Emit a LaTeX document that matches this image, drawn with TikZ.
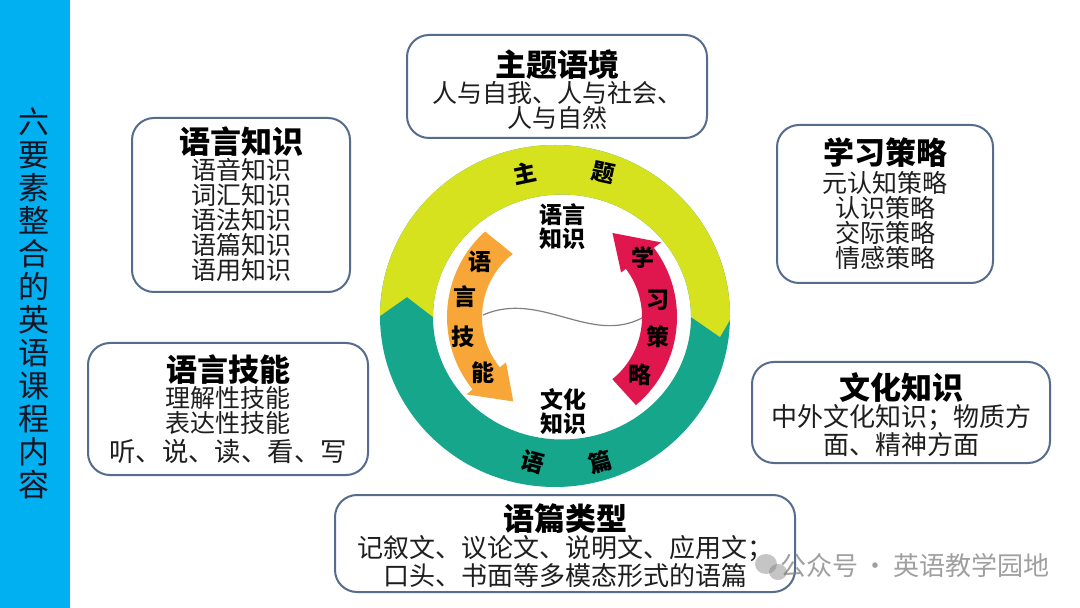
\documentclass[tikz,border=0pt]{standalone}
\usepackage{fontspec}
\setmainfont{Noto Sans CJK SC}
\definecolor{barblue}{RGB}{0,176,240}
\definecolor{ringyellow}{RGB}{214,226,30}
\definecolor{ringteal}{RGB}{22,166,140}
\definecolor{arrorange}{RGB}{247,166,55}
\definecolor{arrred}{RGB}{224,22,78}
\definecolor{boxline}{RGB}{86,108,140}
\definecolor{bodytext}{RGB}{30,30,30}
\tikzset{
  infobox/.style={draw=boxline, line width=1pt, rounded corners=11pt, fill=white, inner sep=0pt},
  hdr/.style={inner sep=0pt, align=center, font=\fontsize{15.5}{15.5}\selectfont\bfseries, text=black},
  bodytxt/.style={inner sep=0pt, align=center, font=\fontsize{12.5}{12.5}\selectfont, text=bodytext},
  ringlbl/.style={inner sep=0pt, align=center, font=\fontsize{11.5}{10.6}\selectfont\bfseries, text=black},
}
\begin{document}
\begin{tikzpicture}[x=0.5pt,y=-0.5pt]
\useasboundingbox (0,0) rectangle (1080,608);
\fill[white] (0,0) rectangle (1080,608);
% left bar
\fill[barblue] (0,0) rectangle (70,608);
\node[inner sep=0pt, align=center, font=\fontsize{15.5}{16.5}\selectfont, text={rgb,255:red,20;green,20;blue,35}] (bartitle) at (34,303)
  {六\\要\\素\\整\\合\\的\\英\\语\\课\\程\\内\\容};

% ring
\begin{scope}[shift={(555,316)}, yscale=-1]
  \fill[ringteal, even odd rule] (0,0) ellipse [x radius=175, y radius=171]
     (7,-1) ellipse [x radius=129, y radius=122.5];
  \fill[ringyellow] (-175,0) arc[start angle=180, end angle=-1.3, x radius=175, y radius=171]
     -- (165,-21) -- (136,-1)
     arc[start angle=0, end angle=180, x radius=129, y radius=122.5]
     -- (-148,19) -- cycle;
\end{scope}
\begin{scope}[shift={(562,317)}, yscale=-1]
  \fill[arrorange] (132:115) arc[start angle=132, end angle=219, radius=115]
     -- (219:123) -- (240:97.5) -- (219:72) -- (219:80)
     arc[start angle=219, end angle=128, radius=80] -- cycle;
  \fill[arrred] (-50:115) arc[start angle=-50, end angle=37, radius=115]
     -- (37:124) -- (59:98) -- (37:74) -- (37:80)
     arc[start angle=37, end angle=-51, radius=80] -- cycle;
\end{scope}
\draw[gray, line width=0.6pt] (483,315) .. controls (540,290) and (590,345) .. (642,318);

\node[ringlbl, rotate=12] (zhu) at (525,173) {主};
\node[ringlbl, rotate=-12] (ti) at (603,173) {题};
\node[ringlbl, rotate=-15] (yu) at (533,462) {语};
\node[ringlbl, rotate=15] (pian) at (600,462) {篇};
\node[ringlbl] (yyzs) at (562,227) {语言\\知识};
\node[ringlbl] (whzs) at (563,411.5) {文化\\知识};
\node[ringlbl] (o1) at (480,262) {语};
\node[ringlbl] (o2) at (465,297) {言};
\node[ringlbl] (o3) at (463,337) {技};
\node[ringlbl] (o4) at (483,373) {能};
\node[ringlbl] (r1) at (643,258) {学};
\node[ringlbl] (r2) at (658,300) {习};
\node[ringlbl] (r3) at (658,337) {策};
\node[ringlbl] (r4) at (640,375) {略};

% boxes
\node[infobox, minimum width=150pt, minimum height=51.5pt] (b1) at (557,86.5) {};
\node[hdr] (b1h) at (557,65) {主题语境};
\node[bodytxt] (b1t) at (557,105.5) {人与自我、人与社会、\\人与自然};

\node[infobox, minimum width=109pt, minimum height=87pt] (b2) at (241,205) {};
\node[hdr] (b2h) at (241,142) {语言知识};
\node[bodytxt] (b2t) at (241,220) {语音知识\\词汇知识\\语法知识\\语篇知识\\语用知识};

\node[infobox, minimum width=108pt, minimum height=79pt] (b3) at (885,204) {};
\node[hdr] (b3h) at (885,153) {学习策略};
\node[bodytxt] (b3t) at (885,220) {元认知策略\\认识策略\\交际策略\\情感策略};

\node[infobox, minimum width=140pt, minimum height=66pt] (b4) at (228,409) {};
\node[hdr] (b4h) at (228,370) {语言技能};
\node[bodytxt] (b4t) at (228,410.5) {理解性技能\\表达性技能};
\node[bodytxt, font=\fontsize{13.2}{13.2}\selectfont] (b4u) at (228,452) {听、说、读、看、写};

\node[infobox, minimum width=149pt, minimum height=50.5pt] (b5) at (901,412.5) {};
\node[hdr] (b5h) at (901,388) {文化知识};
\node[bodytxt, font=\fontsize{13}{12.5}\selectfont] (b5t) at (901,430.5) {中外文化知识；物质方\\面、精神方面};

\node[infobox, minimum width=230pt, minimum height=48.5pt] (b6) at (565,543.5) {};
\node[hdr] (b6h) at (565,519) {语篇类型};
\node[bodytxt, font=\fontsize{13}{12.5}\selectfont] (b6t) at (565,561.5) {记叙文、议论文、说明文、应用文；\\口头、书面等多模态形式的语篇};

% watermark
\fill[gray, opacity=0.45] (766,564) ellipse [x radius=11, y radius=10];
\fill[gray, opacity=0.45] (778,572) ellipse [x radius=9, y radius=8];
\node[inner sep=0pt, font=\fontsize{13}{13}\selectfont, text=gray, opacity=0.75] (wm) at (915,566) {公众号\,·\,英语教学园地};
\end{tikzpicture}
\end{document}
